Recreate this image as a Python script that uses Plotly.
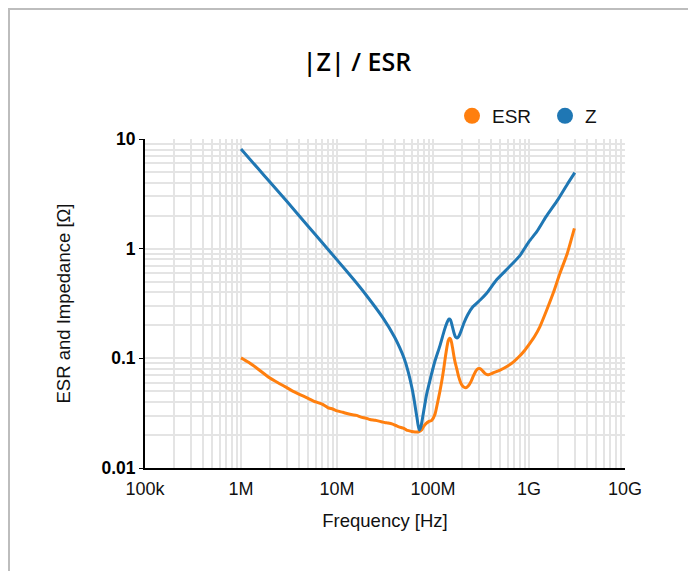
import plotly.graph_objects as go

# ---- data ----
z_freq = [1e6, 1.5e6, 2e6, 3e6, 5e6, 7e6, 1e7, 1.5e7, 2e7, 3e7, 4e7, 4.5e7, 5e7,
          5.5e7, 6e7, 6.3e7, 6.6e7, 6.8e7, 7e7, 7.2e7, 7.5e7, 8e7, 8.5e7, 9e7,
          9.5e7, 1.05e8, 1.18e8, 1.3e8, 1.36e8, 1.42e8, 1.47e8, 1.52e8, 1.58e8,
          1.65e8, 1.72e8, 1.78e8, 1.85e8, 1.95e8, 2.1e8, 2.3e8, 2.6e8, 3.1e8,
          3.6e8, 4.6e8, 6e8, 8e8, 1e9, 1.2e9, 1.5e9, 2e9, 2.5e9, 3e9]
z_vals = [8.1, 5.4, 4.05, 2.7, 1.6, 1.14, 0.79, 0.52, 0.38, 0.235, 0.155, 0.125, 0.1,
          0.076, 0.055, 0.044, 0.034, 0.029, 0.0245, 0.0222, 0.024, 0.033, 0.045, 0.056,
          0.068, 0.095, 0.13, 0.175, 0.198, 0.218, 0.228, 0.224, 0.2,
          0.172, 0.156, 0.153, 0.158, 0.175, 0.21, 0.25, 0.295, 0.34,
          0.39, 0.52, 0.66, 0.86, 1.16, 1.42, 1.95, 2.8, 3.85, 4.93]

esr_freq = [1e6, 1.2e6, 1.5e6, 2e6, 2.5e6, 3e6, 3.5e6, 4e6, 5e6, 6e6, 7e6, 8e6, 9e6,
            1e7, 1.15e7, 1.3e7, 1.45e7, 1.6e7, 1.75e7, 1.9e7, 2.05e7, 2.2e7, 2.5e7,
            2.8e7, 3e7, 3.2e7, 3.4e7, 3.8e7, 4.2e7, 4.5e7, 4.9e7, 5.3e7, 5.7e7,
            6e7, 6.5e7, 7.1e7, 7.6e7, 8e7, 8.5e7, 9e7, 9.7e7, 1.05e8, 1.12e8,
            1.18e8, 1.25e8, 1.3e8, 1.35e8, 1.4e8, 1.44e8, 1.48e8, 1.52e8, 1.56e8,
            1.6e8, 1.65e8, 1.7e8, 1.77e8, 1.85e8, 1.95e8, 2.05e8, 2.2e8, 2.35e8,
            2.5e8, 2.65e8, 2.8e8, 2.95e8, 3.1e8, 3.3e8, 3.5e8, 3.7e8, 3.9e8,
            4.2e8, 5e8, 6e8, 6.9e8, 8e8, 9e8, 1.02e9, 1.15e9, 1.3e9, 1.53e9,
            1.8e9, 2.1e9, 2.5e9, 2.97e9]
esr_vals = [0.101, 0.092, 0.08, 0.066, 0.059, 0.054, 0.050, 0.0472, 0.0432, 0.0400,
            0.0382, 0.0356, 0.0345, 0.0332, 0.0322, 0.0312, 0.0306, 0.0302, 0.0293,
            0.0287, 0.0283, 0.0277, 0.0272, 0.0266, 0.0262, 0.0259, 0.0257, 0.0251,
            0.0242, 0.0236, 0.0231, 0.0222, 0.0218, 0.0215, 0.0213, 0.0214, 0.0222,
            0.024, 0.0255, 0.0265, 0.0272, 0.031, 0.04,
            0.05, 0.066, 0.083, 0.105, 0.128, 0.145, 0.152, 0.15, 0.14,
            0.124, 0.105, 0.092, 0.08, 0.068, 0.0595, 0.0555, 0.054, 0.0565,
            0.062, 0.07, 0.077, 0.0805, 0.0805, 0.0765, 0.0725, 0.0708, 0.0715,
            0.0735, 0.078, 0.085, 0.093, 0.105, 0.118, 0.137, 0.16, 0.195, 0.276,
            0.4, 0.596, 0.9, 1.53]

x_tickvals = [1e5, 1e6, 1e7, 1e8, 1e9, 1e10]
x_ticktext = ["100k", "1M", "10M", "100M", "1G", "10G"]
y_tickvals = [0.01, 0.1, 1, 10]
y_ticktext = ["0.01", "0.1", "1", "10"]

ESR_COLOR = "#ff7f0e"
Z_COLOR = "#1f77b4"
GRID = "#e4e4e4"

x_minor = [m * 10 ** e for e in range(5, 10) for m in range(2, 10)]
y_minor = [m * 10 ** e for e in range(-2, 1) for m in range(2, 10)]

fig = go.Figure()
fig.add_trace(go.Scatter(x=esr_freq, y=esr_vals, mode="lines", name="ESR",
                         line=dict(color=ESR_COLOR, width=3, shape="spline", smoothing=0.5),
                         showlegend=False))
fig.add_trace(go.Scatter(x=z_freq, y=z_vals, mode="lines", name="Z",
                         line=dict(color=Z_COLOR, width=3, shape="spline", smoothing=0.5),
                         showlegend=False))
# legend entries (circle markers)
fig.add_trace(go.Scatter(x=[None], y=[None], mode="markers", name="ESR",
                         marker=dict(color=ESR_COLOR, size=16)))
fig.add_trace(go.Scatter(x=[None], y=[None], mode="markers", name="Z",
                         marker=dict(color=Z_COLOR, size=16)))

OFF = 8  # page offset of the figure inside the browser window
W, H = 696, 571
L, R, T, B = 145 - OFF, W - (625 - OFF), 139 - OFF, H - (468 - OFF)
pw, ph = W - L - R, H - T - B


def px_x(p):
    return (p - OFF - L) / pw


def px_y(p):
    return (H - B - (p - OFF)) / ph


fig.update_layout(
    width=W, height=H,
    margin=dict(l=L, r=R, t=T, b=B),
    paper_bgcolor="white", plot_bgcolor="white",
    font=dict(family="Liberation Sans, Arial, sans-serif", size=16, color="#111"),
    title=dict(text="|Z| / ESR", x=(357 - OFF) / W, xanchor="center", xref="container",
               y=1 - (62 - OFF) / H, yanchor="middle", yref="container",
               font=dict(family="Open Sans, Noto Sans, sans-serif", size=25,
                         weight=600, color="#000")),
    legend=dict(orientation="h", x=px_x(452), xanchor="left",
                y=px_y(116), yanchor="middle",
                font=dict(size=19, color="#111"), itemwidth=30, entrywidth=48,
                bgcolor="rgba(0,0,0,0)", tracegroupgap=0),
    showlegend=True,
    shapes=[dict(type="rect", xref="paper", yref="paper",
                 x0=px_x(OFF + 1), x1=px_x(760), y0=px_y(640), y1=px_y(OFF + 1),
                 line=dict(color="#bdbdbd", width=2), layer="below")],
)

fig.update_xaxes(
    type="log", range=[5, 10],
    tickmode="array", tickvals=x_tickvals, ticktext=x_ticktext,
    showgrid=True, gridcolor=GRID, gridwidth=1.5,
    showline=True, linecolor="black", linewidth=2,
    ticks="", zeroline=False, ticklabelstandoff=3,
    tickfont=dict(size=18, color="#111"),
    minor=dict(tickmode="array", tickvals=x_minor, showgrid=True,
               gridcolor=GRID, gridwidth=1.5, ticks=""),
    title=dict(text="Frequency [Hz]", font=dict(size=18.5, color="#111"), standoff=16),
)
fig.update_yaxes(
    type="log", range=[-2, 1],
    tickmode="array", tickvals=y_tickvals, ticktext=y_ticktext,
    showgrid=True, gridcolor=GRID, gridwidth=1.5,
    showline=True, linecolor="black", linewidth=2,
    ticks="outside", ticklen=4, tickcolor="black", tickwidth=1,
    zeroline=False,
    tickfont=dict(size=17.5, color="#000", weight="bold"),
    minor=dict(tickmode="array", tickvals=y_minor, showgrid=True,
               gridcolor=GRID, gridwidth=1.5, ticks=""),
    title=dict(text="ESR and Impedance [Ω]", font=dict(size=18.5, color="#111"), standoff=26),
)

fig.write_html("out.html")
